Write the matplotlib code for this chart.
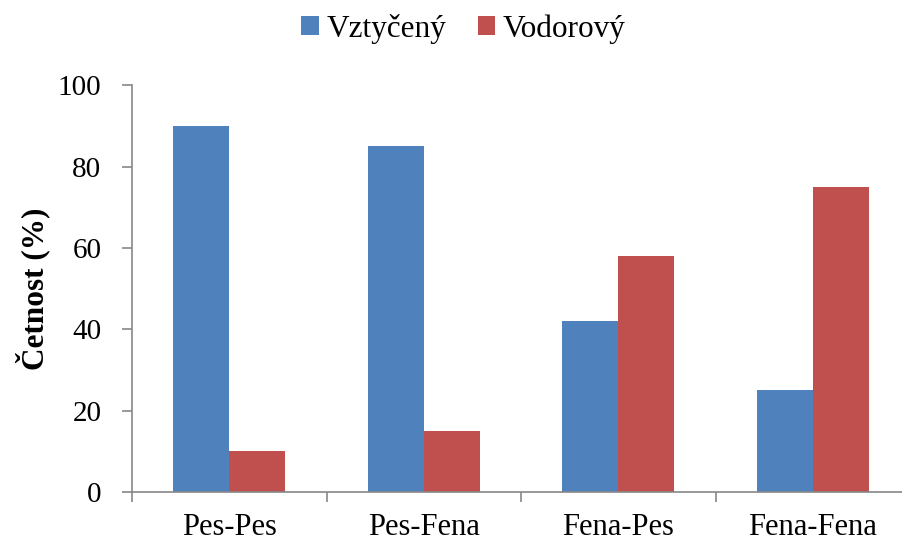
import matplotlib.pyplot as plt
import numpy as np

categories = ['Pes-Pes', 'Pes-Fena', 'Fena-Pes', 'Fena-Fena']
vztyceny = [90, 85, 42, 25]
vodorovy = [10, 15, 58, 75]
series_names = ['Vztyčený', 'Vodorový']

plt.rcParams['font.family'] = ['Liberation Serif', 'DejaVu Serif']

fig = plt.figure(figsize=(9.02, 5.45), dpi=100)
ax = fig.add_axes([132 / 902, 53 / 545, 778 / 902, 406.5 / 545])

x = np.arange(len(categories))
w = 0.288
ax.bar(x - w / 2, vztyceny, w, color='#4F81BD', label=series_names[0])
ax.bar(x + w / 2, vodorovy, w, color='#C0504D', label=series_names[1])

ax.set_xlim(-0.5, len(categories) - 0.5)
ax.set_ylim(0, 100)
ax.set_yticks(range(0, 101, 20))
ax.tick_params(axis='y', labelsize=21, length=7, width=1.2, color='#878787', pad=15)

# category labels in the middle, tick marks on the boundaries
ax.set_xticks(x)
ax.set_xticklabels(categories, fontsize=22)
ax.tick_params(axis='x', length=0, pad=15)
ax.set_xticks(np.arange(-0.5, len(categories)), minor=True)
ax.tick_params(axis='x', which='minor', length=7, width=1.2, color='#878787')

for s in ['top', 'right']:
    ax.spines[s].set_visible(False)
for s in ['left', 'bottom']:
    ax.spines[s].set_color('#878787')
    ax.spines[s].set_linewidth(1.2)

ax.set_ylabel('Četnost (%)', fontsize=22.5, fontweight='bold')
ax.yaxis.set_label_coords(-0.105, 0.5)

fig.legend(loc='center', bbox_to_anchor=(463.5 / 902, (545 - 29) / 545), ncol=2, frameon=False,
           fontsize=22.5, handlelength=0.56, handleheight=0.56, handletextpad=0.25,
           columnspacing=1.0, borderpad=0)

fig.savefig('out.png', dpi=100)
